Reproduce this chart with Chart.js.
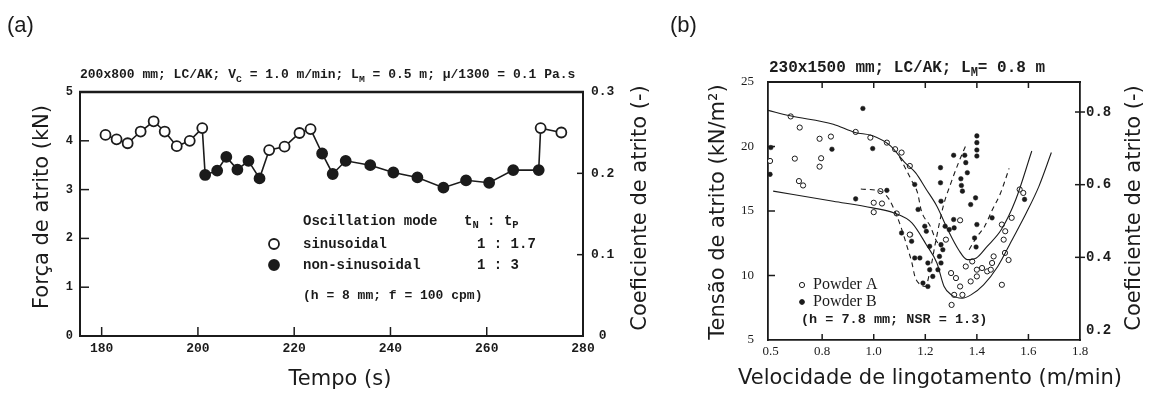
<!DOCTYPE html>
<html>
<head>
<meta charset="utf-8">
<script src="https://cdn.jsdelivr.net/npm/chart.js@4.4.1/dist/chart.umd.min.js"></script>
<style>
  html, body { margin: 0; padding: 0; background: #fff; }
  #wrap { position: relative; width: 1149px; height: 394px; overflow: hidden; }
  .panel { position: absolute; top: 0; height: 394px; }
  #panelA { left: 0; width: 660px; }
  #panelB { left: 660px; width: 489px; }
</style>
</head>
<body>
<div id="wrap">
  <div class="panel" id="panelA"><canvas id="chartA"></canvas></div>
  <div class="panel" id="panelB"><canvas id="chartB"></canvas></div>
</div>
<script>
// ---- (a) friction force vs time ----
var tempo = [180.8, 183.1, 185.4, 188.1, 190.8, 193.1, 195.6, 198.3, 200.9,
    201.5, 204.0, 205.9, 208.2, 210.5, 212.8,
    214.8, 218.0, 221.1, 223.4,
    225.8, 228.0, 230.7, 235.8, 240.6, 245.6, 251.0, 255.7, 260.5, 265.5, 270.8,
    271.2, 275.5];
var forca = [4.12, 4.03, 3.95, 4.19, 4.40, 4.19, 3.89, 4.00, 4.26,
    3.30, 3.39, 3.67, 3.41, 3.59, 3.23,
    3.81, 3.88, 4.16, 4.24,
    3.74, 3.32, 3.59, 3.50, 3.35, 3.25, 3.04, 3.19, 3.14, 3.40, 3.40,
    4.26, 4.17];
// s = sinusoidal (open), n = non-sinusoidal (filled)
var modo = ['s', 's', 's', 's', 's', 's', 's', 's', 's',
    'n', 'n', 'n', 'n', 'n', 'n',
    's', 's', 's', 's',
    'n', 'n', 'n', 'n', 'n', 'n', 'n', 'n', 'n', 'n', 'n',
    's', 's'];
var tempoTicks = [180, 200, 220, 240, 260, 280];
var forcaTicks = [0, 1, 2, 3, 4, 5];
var coefTicksA = [0, 0.1, 0.2, 0.3];

// ---- (b) friction stress vs casting speed ----
var powderAX = [0.678, 0.713, 0.79, 0.834, 0.93, 0.987, 0.694, 0.796, 0.79, 0.598, 0.71, 0.726,
    1.026, 1.0, 1.032, 1.0, 1.089, 1.051, 1.083, 1.108, 1.14, 1.14, 1.335, 1.535, 1.497,
    1.51, 1.504, 1.28, 1.30, 1.319, 1.335, 1.357, 1.382, 1.40, 1.42, 1.44, 1.459, 1.465,
    1.497, 1.312, 1.344, 1.302, 1.376, 1.40, 1.58, 1.566, 1.509, 1.523, 1.454];
var powderAY = [22.33, 21.47, 20.6, 20.77, 21.13, 20.69, 19.06, 19.09, 18.44, 18.88, 17.32, 16.98,
    16.54, 15.64, 15.58, 14.91, 14.81, 20.3, 19.79, 19.53, 18.49, 13.17, 14.28, 14.47, 13.95,
    13.43, 12.78, 12.78, 10.19, 9.8, 9.15, 10.7, 11.09, 10.45, 10.58, 10.32, 10.97, 11.48,
    9.28, 8.5, 8.5, 7.72, 9.54, 9.93, 16.4, 16.67, 11.75, 11.2, 10.45];
var powderBX = [0.958, 0.838, 0.996, 0.601, 0.598, 0.93, 1.051, 1.159, 1.172, 1.204, 1.108,
    1.40, 1.40, 1.40, 1.40, 1.31, 1.353, 1.357, 1.259, 1.363, 1.338, 1.34, 1.344, 1.259,
    1.395, 1.376, 1.261, 1.31, 1.40, 1.459, 1.391, 1.397, 1.277, 1.293, 1.312, 1.261,
    1.268, 1.255, 1.217, 1.143, 1.147, 1.159, 1.179, 1.21, 1.217, 1.229, 1.191, 1.21,
    1.261, 1.249, 1.198, 1.585];
var powderBY = [22.95, 19.79, 19.84, 19.92, 17.84, 15.94, 16.6, 17.06, 15.12, 13.43, 13.3,
    20.82, 20.3, 19.73, 19.26, 19.32, 19.32, 18.75, 18.36, 17.97, 17.5, 16.98, 16.54, 17.19,
    16.02, 15.5, 15.76, 14.34, 13.95, 14.47, 12.91, 12.21, 13.82, 13.56, 13.69, 12.39,
    12.0, 11.48, 12.26, 13.17, 12.65, 11.36, 11.36, 10.97, 10.45, 9.93, 9.41, 9.15,
    10.97, 10.45, 13.82, 15.9];

var upperX = [0.59, 0.676, 0.843, 0.927, 0.996, 1.065, 1.121, 1.162, 1.204, 1.245, 1.287,
    1.329, 1.363, 1.398, 1.44, 1.495, 1.551, 1.613];
var upperY = [22.8, 22.38, 21.73, 21.09, 20.83, 20.05, 18.75, 17.97, 16.67, 15.37, 13.56,
    12.0, 11.23, 11.36, 12.26, 13.56, 15.89, 19.65];
var lowerX = [0.61, 0.843, 0.996, 1.079, 1.148, 1.204, 1.245, 1.273, 1.301, 1.343, 1.377,
    1.426, 1.481, 1.537, 1.592, 1.641, 1.689];
var lowerY = [16.54, 15.76, 15.24, 14.85, 14.08, 12.39, 10.97, 9.15, 8.5, 8.24, 8.5,
    9.28, 10.7, 12.78, 14.86, 16.93, 19.53];
var dash1X = [0.95, 1.03, 1.06, 1.09, 1.11, 1.13, 1.148, 1.16, 1.18, 1.20, 1.22, 1.24,
    1.27, 1.30, 1.33, 1.36];
var dash1Y = [16.7, 16.5, 15.9, 14.6, 13.5, 12.2, 11.0, 9.9, 9.3, 9.15, 10.5, 12.6,
    15.4, 17.2, 18.8, 20.2];
var dash2X = [1.10, 1.145, 1.17, 1.185, 1.22, 1.24, 1.26];
var dash2Y = [19.2, 17.45, 16.4, 15.0, 13.8, 12.8, 12.2];
var dash3X = [1.37, 1.40, 1.43, 1.46, 1.49, 1.51, 1.525];
var dash3Y = [12.0, 13.0, 13.8, 15.1, 16.3, 17.4, 18.3];

var velTicks = [0.6, 0.8, 1.0, 1.2, 1.4, 1.6, 1.8];
var velTickLabels = ['0.5', '0.8', '1.0', '1.2', '1.4', '1.6', '1.8'];
var tensaoTicks = [5, 10, 15, 20, 25];
var coefTicksB = [0.2, 0.4, 0.6, 0.8];

var INK = '#1b1b1b';
var MONO = '"Liberation Mono", "DejaVu Sans Mono", monospace';
var SERIF = '"Liberation Serif", "DejaVu Serif", serif';
var TITLE_FONT = '21px "DejaVu Sans", Verdana, sans-serif';

function zip(xs, ys) {
    return xs.map(function (x, i) { return { x: x, y: ys[i] }; });
}

function fixTicks(values) {
    return function (scale) {
        scale.ticks = values.map(function (v) { return { value: v }; });
    };
}

// text made of runs, some of them subscripts
function drawRuns(ctx, x, y, runs, size) {
    ctx.save();
    ctx.textBaseline = 'middle';
    ctx.textAlign = 'left';
    runs.forEach(function (r) {
        var sub = r[1];
        ctx.font = 'bold ' + (sub ? size * 0.75 : size) + 'px ' + MONO;
        ctx.fillText(r[0], x, sub ? y + size * 0.32 : y);
        x += ctx.measureText(r[0]).width;
    });
    ctx.restore();
}

function drawRotated(ctx, text, x, y, font) {
    ctx.save();
    ctx.translate(x, y);
    ctx.rotate(-Math.PI / 2);
    ctx.font = font;
    ctx.fillStyle = INK;
    ctx.textAlign = 'center';
    ctx.textBaseline = 'middle';
    ctx.fillText(text, 0, 0);
    ctx.restore();
}

// tick marks drawn on the plot frame (inward and/or outward)
function drawTickMarks(chart, marks) {
    var ctx = chart.ctx;
    var a = chart.chartArea;
    ctx.save();
    ctx.strokeStyle = INK;
    marks.forEach(function (m) {
        var scale = chart.scales[m.axis];
        ctx.lineWidth = m.width || 1.5;
        m.values.forEach(function (v) {
            var p = scale.getPixelForValue(v);
            var out = m.out || 0;
            ctx.beginPath();
            if (m.edge === 'bottom') { ctx.moveTo(p, a.bottom + out); ctx.lineTo(p, a.bottom - m.len); }
            if (m.edge === 'top') { ctx.moveTo(p, a.top - out); ctx.lineTo(p, a.top + m.len); }
            if (m.edge === 'left') { ctx.moveTo(a.left - out, p); ctx.lineTo(a.left + m.len, p); }
            if (m.edge === 'right') { ctx.moveTo(a.right + out, p); ctx.lineTo(a.right - m.len, p); }
            ctx.stroke();
        });
    });
    ctx.restore();
}

function dot(ctx, x, y, r, filled, lw) {
    ctx.beginPath();
    ctx.arc(x, y, r, 0, Math.PI * 2);
    ctx.fillStyle = filled ? INK : '#fff';
    ctx.fill();
    ctx.lineWidth = lw;
    ctx.strokeStyle = INK;
    ctx.stroke();
}

var decorA = {
    id: 'decorA',
    afterDraw: function (chart) {
        var ctx = chart.ctx;
        var a = chart.chartArea;
        ctx.save();
        ctx.fillStyle = INK;

        ctx.font = '22px "Liberation Sans", Arial, sans-serif';
        ctx.textBaseline = 'middle';
        ctx.fillText('(a)', 7, 26);

        drawRuns(ctx, a.left, 75, [
            ['200x800 mm; LC/AK; V', false], ['C', true], [' = 1.0 m/min; L', false],
            ['M', true], [' = 0.5 m; \u03bc/1300 = 0.1 Pa.s', false]
        ], 13);

        // top frame
        ctx.strokeStyle = INK;
        ctx.lineWidth = 2.5;
        ctx.beginPath();
        ctx.moveTo(a.left - 1, a.top);
        ctx.lineTo(a.right + 1, a.top);
        ctx.stroke();

        drawTickMarks(chart, [
            { axis: 'x', edge: 'bottom', values: tempoTicks.slice(0, 5), len: 9 },
            { axis: 'y', edge: 'left', values: forcaTicks.slice(1, 5), len: 9 },
            { axis: 'y2', edge: 'right', values: coefTicksA.slice(1, 3), len: 6 }
        ]);

        // axis titles
        drawRotated(ctx, 'For\u00e7a de atrito (kN)', 43, 207, TITLE_FONT);
        drawRotated(ctx, 'Coeficiente de atrito (-)', 641, 208, TITLE_FONT);
        ctx.font = TITLE_FONT;
        ctx.textAlign = 'center';
        ctx.fillText('Tempo (s)', 340, 380);

        // legend block
        ctx.textAlign = 'left';
        ctx.font = 'bold 14px ' + MONO;
        ctx.fillText('Oscillation mode', 303, 221);
        drawRuns(ctx, 464, 221, [['t', false], ['N', true], [' : t', false], ['P', true]], 14);
        dot(ctx, 274, 244, 5, false, 1.8);
        ctx.fillStyle = INK;
        ctx.font = 'bold 14px ' + MONO;
        ctx.fillText('sinusoidal', 303, 244);
        ctx.fillText('1 : 1.7', 477, 244);
        dot(ctx, 274, 265, 5, true, 1.8);
        ctx.fillStyle = INK;
        ctx.fillText('non-sinusoidal', 303, 265);
        ctx.fillText('1 : 3', 477, 265);
        ctx.font = 'bold 13px ' + MONO;
        ctx.fillText('(h = 8 mm; f = 100 cpm)', 303, 296);
        ctx.restore();
    }
};

var decorB = {
    id: 'decorB',
    afterDraw: function (chart) {
        var ctx = chart.ctx;
        var a = chart.chartArea;
        ctx.save();
        ctx.fillStyle = INK;

        ctx.font = '22px "Liberation Sans", Arial, sans-serif';
        ctx.textBaseline = 'middle';
        ctx.fillText('(b)', 10, 26);

        drawRuns(ctx, a.left + 1, 68, [
            ['230x1500 mm; LC/AK; L', false], ['M', true], ['= 0.8 m', false]
        ], 16);

        ctx.strokeStyle = INK;
        ctx.lineWidth = 1.8;
        ctx.beginPath();
        ctx.moveTo(a.left - 1, a.top);
        ctx.lineTo(a.right + 1, a.top);
        ctx.stroke();

        drawTickMarks(chart, [
            { axis: 'x', edge: 'bottom', values: velTicks.slice(1, 6), len: 6 },
            { axis: 'x', edge: 'top', values: velTicks.slice(1, 6), len: 6 },
            { axis: 'y', edge: 'left', values: tensaoTicks.slice(1, 4), len: 7 },
            { axis: 'y2', edge: 'right', values: coefTicksB.slice(1), len: 5, out: 5 }
        ]);

        drawRotated(ctx, 'Tens\u00e3o de atrito (kN/m\u00b2)', 59, 212, TITLE_FONT);
        drawRotated(ctx, 'Coeficiente de atrito (-)', 475, 208, TITLE_FONT);
        ctx.font = TITLE_FONT;
        ctx.textAlign = 'center';
        ctx.fillText('Velocidade de lingotamento (m/min)', 270, 379);

        // legend block
        dot(ctx, 142, 285, 2.6, false, 1);
        dot(ctx, 142, 302, 2.4, true, 1);
        ctx.fillStyle = INK;
        ctx.textAlign = 'left';
        ctx.font = '16px ' + SERIF;
        ctx.fillText('Powder A', 153, 285);
        ctx.fillText('Powder B', 153, 302);
        ctx.font = 'bold 13.5px ' + MONO;
        ctx.fillText('(h = 7.8 mm; NSR = 1.3)', 141, 320);
        ctx.restore();
    }
};

function initCharts() {
    if (typeof Chart === 'undefined') {
        return;
    }
    Chart.defaults.color = INK;
    Chart.defaults.animation = false;

    var elA = document.getElementById('chartA');
    new Chart(elA, {
        type: 'line',
        data: {
            datasets: [{
                label: 'Força de atrito',
                data: zip(tempo, forca),
                borderColor: INK,
                borderWidth: 1.6,
                tension: 0,
                pointRadius: 5,
                pointBorderWidth: 1.8,
                pointBorderColor: INK,
                pointBackgroundColor: function (c) {
                    return modo[c.dataIndex] === 'n' ? INK : '#fff';
                }
            }]
        },
        options: {
            responsive: true,
            maintainAspectRatio: false,
            layout: { padding: { top: 92, left: 0, right: 0, bottom: 0 } },
            plugins: { legend: { display: false }, tooltip: { enabled: false } },
            scales: {
                x: {
                    type: 'linear', position: 'bottom', min: 175.5, max: 280,
                    afterBuildTicks: fixTicks(tempoTicks),
                    afterFit: function (s) { s.height = 58; },
                    grid: { display: false, drawTicks: false },
                    border: { display: true, width: 2, color: INK },
                    ticks: { autoSkip: false, maxRotation: 0, padding: 5, font: { family: MONO, size: 13, weight: 'bold' } }
                },
                y: {
                    type: 'linear', position: 'left', min: 0, max: 5,
                    afterBuildTicks: fixTicks(forcaTicks),
                    afterFit: function (s) { s.width = 80; },
                    grid: { display: false, drawTicks: false },
                    border: { display: true, width: 2, color: INK },
                    ticks: { padding: 7, font: { family: MONO, size: 12, weight: 'bold' } }
                },
                y2: {
                    type: 'linear', position: 'right', min: 0, max: 0.3,
                    afterBuildTicks: fixTicks(coefTicksA),
                    afterFit: function (s) { s.width = 77; },
                    grid: { display: false, drawTicks: false },
                    border: { display: true, width: 2, color: INK },
                    ticks: {
                        padding: 8, crossAlign: 'center',
                        font: { family: MONO, size: 13, weight: 'bold' },
                        callback: function (v) { return v === 0 ? '0' : v.toFixed(1); }
                    }
                }
            }
        },
        plugins: [decorA]
    });

    var curve = function (label, xs, ys, dash) {
        return {
            label: label,
            data: zip(xs, ys),
            showLine: true,
            borderColor: INK,
            borderWidth: 1.1,
            borderDash: dash || [],
            cubicInterpolationMode: 'monotone',
            pointRadius: 0
        };
    };

    var elB = document.getElementById('chartB');
    new Chart(elB, {
        type: 'scatter',
        data: {
            datasets: [
                curve('upper', upperX, upperY),
                curve('lower', lowerX, lowerY),
                curve('dash1', dash1X, dash1Y, [5, 4]),
                curve('dash2', dash2X, dash2Y, [5, 4]),
                curve('dash3', dash3X, dash3Y, [5, 4]),
                {
                    label: 'Powder A',
                    data: zip(powderAX, powderAY),
                    pointRadius: 2.6,
                    pointBorderWidth: 1,
                    pointBorderColor: INK,
                    pointBackgroundColor: '#fff'
                },
                {
                    label: 'Powder B',
                    data: zip(powderBX, powderBY),
                    pointRadius: 2.3,
                    pointBorderWidth: 0.5,
                    pointBorderColor: INK,
                    pointBackgroundColor: INK
                }
            ]
        },
        options: {
            responsive: true,
            maintainAspectRatio: false,
            layout: { padding: { top: 82, left: 0, right: 0, bottom: 0 } },
            plugins: { legend: { display: false }, tooltip: { enabled: false } },
            scales: {
                x: {
                    type: 'linear', position: 'bottom', min: 0.59, max: 1.8,
                    afterBuildTicks: fixTicks(velTicks),
                    afterFit: function (s) { s.height = 54; },
                    grid: { display: false, drawTicks: false },
                    border: { display: true, width: 1.8, color: INK },
                    ticks: {
                        autoSkip: false, maxRotation: 0, padding: 4,
                        font: { family: SERIF, size: 13 },
                        callback: function (v, i) { return velTickLabels[i]; }
                    }
                },
                y: {
                    type: 'linear', position: 'left', min: 5, max: 25,
                    afterBuildTicks: fixTicks(tensaoTicks),
                    afterFit: function (s) { s.width = 108; },
                    grid: { display: false, drawTicks: false },
                    border: { display: true, width: 1.8, color: INK },
                    ticks: { padding: 14, font: { family: SERIF, size: 13 } }
                },
                y2: {
                    type: 'linear', position: 'right', min: 0.1725, max: 0.8826,
                    afterBuildTicks: fixTicks(coefTicksB),
                    afterFit: function (s) { s.width = 69; },
                    grid: { display: false, drawTicks: false },
                    border: { display: true, width: 1.8, color: INK },
                    ticks: {
                        padding: 6,
                        font: { family: MONO, size: 14, weight: 'bold' },
                        callback: function (v) { return v.toFixed(1); }
                    }
                }
            }
        },
        plugins: [decorB]
    });
}

document.addEventListener('DOMContentLoaded', initCharts);
</script>
</body>
</html>
